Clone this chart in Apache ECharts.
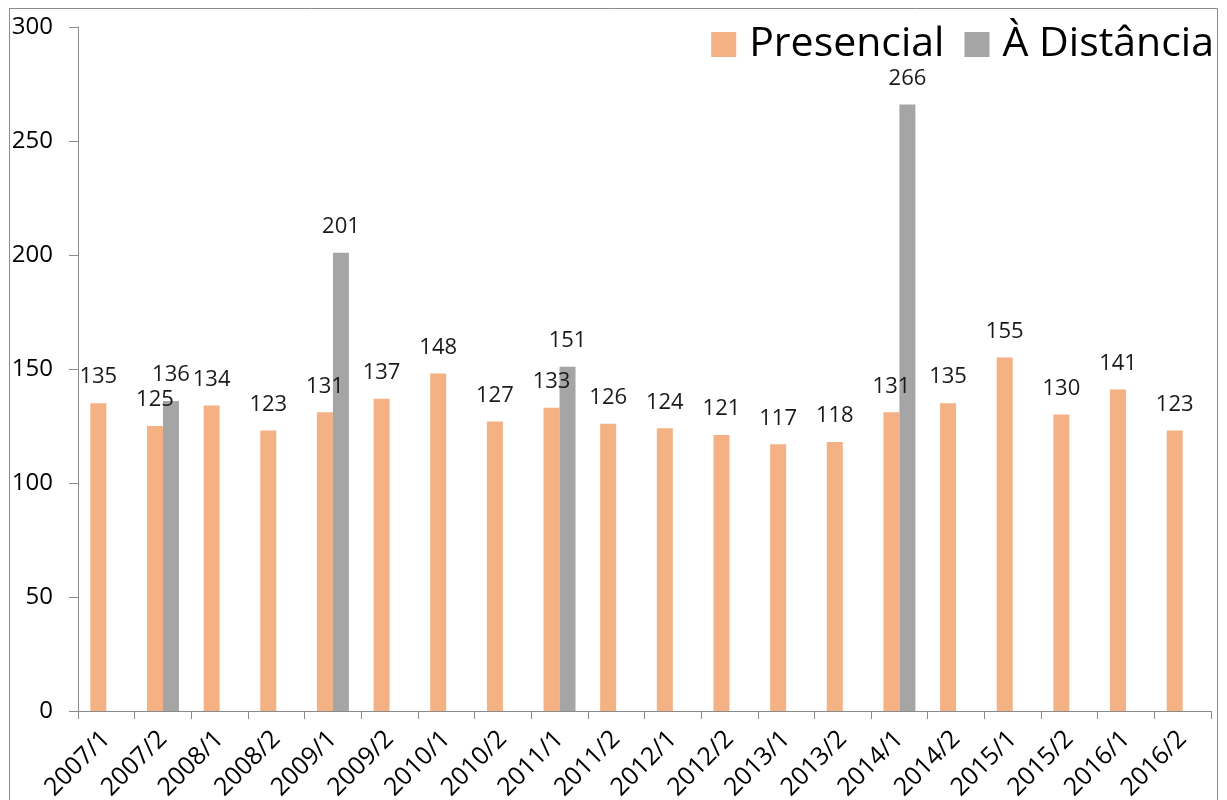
<!DOCTYPE html>
<html>
<head>
<meta charset="utf-8">
<script src="https://cdn.jsdelivr.net/npm/echarts@6/dist/echarts.min.js"></script>
<style>
  html, body { margin: 0; padding: 0; background: #fff; }
  #chart { width: 1227px; height: 800px; }
</style>
</head>
<body>
<div id="chart"></div>
<script>
// Semesters on the category axis
const semesters = [
  '2007/1', '2007/2', '2008/1', '2008/2', '2009/1', '2009/2', '2010/1', '2010/2',
  '2011/1', '2011/2', '2012/1', '2012/2', '2013/1', '2013/2', '2014/1', '2014/2',
  '2015/1', '2015/2', '2016/1', '2016/2'
];
// In-person enrolment per semester
const presencial = [135, 125, 134, 123, 131, 137, 148, 127, 133, 126, 124, 121, 117, 118, 131, 135, 155, 130, 141, 123];
// Distance-learning enrolment (only offered in some semesters)
const distancia = [null, 136, null, null, 201, null, null, null, 151, null, null, null, null, null, 266, null, null, null, null, null];
// Value-axis ticks
const yTicks = [0, 50, 100, 150, 200, 250, 300];

const FONT = '"Open Sans", "Noto Sans", sans-serif';

const chart = echarts.init(document.getElementById('chart'), null, { renderer: 'canvas' });

const labelStyle = {
  show: true,
  position: 'top',
  distance: 15,
  color: '#1a1a1a',
  fontFamily: FONT,
  fontSize: 22
};

chart.setOption({
  animation: false,
  backgroundColor: '#fff',
  textStyle: { fontFamily: FONT },
  graphic: [{
    type: 'rect',
    shape: { x: 9.5, y: 8.5, width: 1208, height: 810 },
    style: { fill: 'none', stroke: '#8c8c8c', lineWidth: 1 },
    silent: true
  }],
  legend: {
    top: 19,
    right: 8,
    itemWidth: 25,
    itemHeight: 25,
    itemGap: 20,
    icon: 'rect',
    textStyle: { fontSize: 41, color: '#000', fontFamily: FONT, padding: [0, 0, 0, 8] }
  },
  grid: {
    left: 78, right: 16, top: 27, bottom: 89,
    containLabel: false,
    outerBoundsMode: 'none'
  },
  xAxis: {
    type: 'category',
    data: semesters,
    axisLine: { lineStyle: { color: '#8a8a8a', width: 1 } },
    axisTick: { show: true, length: 8, lineStyle: { color: '#8a8a8a' } },
    axisLabel: {
      rotate: 45,
      interval: 0,
      margin: 24,
      color: '#000',
      fontSize: 25,
      fontFamily: FONT
    },
    splitLine: { show: false }
  },
  yAxis: {
    type: 'value',
    min: yTicks[0],
    max: yTicks[yTicks.length - 1],
    interval: yTicks[1] - yTicks[0],
    axisLine: { show: true, lineStyle: { color: '#8a8a8a', width: 1 } },
    axisTick: { show: true, length: 9, lineStyle: { color: '#8a8a8a' } },
    axisLabel: { margin: 25, color: '#000', fontSize: 24, fontFamily: FONT },
    splitLine: { show: false }
  },
  series: [
    {
      name: 'Presencial',
      type: 'bar',
      data: presencial,
      barWidth: 16,
      barGap: '0%',
      itemStyle: { color: '#F4B183' },
      label: labelStyle
    },
    {
      name: 'À Distância',
      type: 'bar',
      data: distancia,
      barWidth: 16,
      barGap: '0%',
      itemStyle: { color: '#A5A5A5' },
      label: labelStyle
    }
  ]
});
</script>
</body>
</html>
